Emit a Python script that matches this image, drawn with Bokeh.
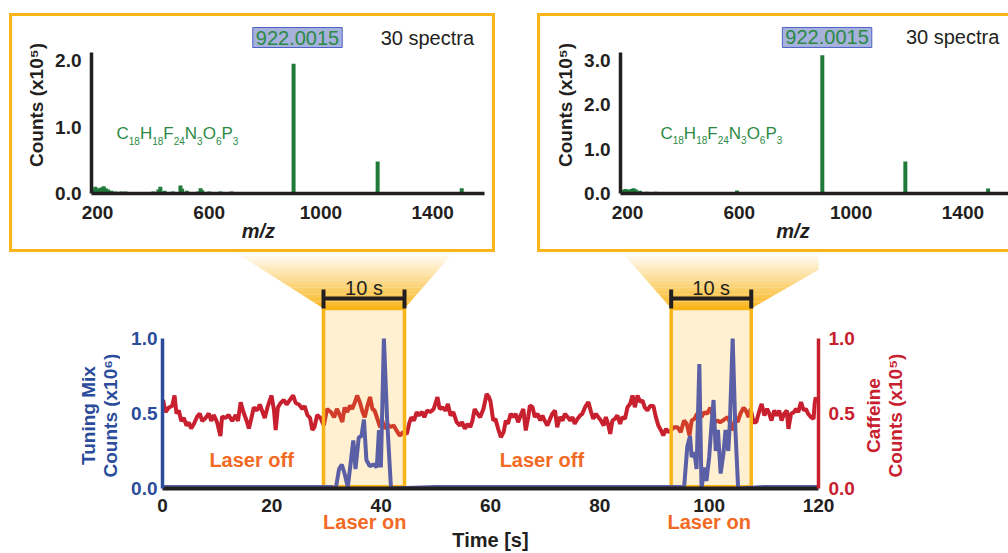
import math
from bokeh.plotting import figure
from bokeh.models import (Range1d, LinearAxis, Label, FixedTicker, NumeralTickFormatter,
                          PolyAnnotation, Spacer)
from bokeh.layouts import column, row
from bokeh.embed import file_html
from bokeh.resources import INLINE

# ---------------- data ----------------
time_ticks = [0, 20, 40, 60, 80, 100, 120]
count_ticks = [0, 0.5, 1.0]
mz_ticks = [200, 600, 1000, 1400]

caffeine_t = [0.1, 0.55, 1.16, 1.77, 2.2, 2.56, 2.99, 3.42, 3.9, 4.39, 4.82, 5.25, 5.74, 6.35, 6.83,
              7.26, 7.87, 8.48, 8.91, 9.4, 10.0, 10.6, 10.9, 11.5, 12.1, 12.75, 13.4, 13.8, 14.3, 14.8,
              15.4, 15.8, 16.2, 16.7, 17.3, 17.8, 18.2, 18.7, 19.2, 19.65, 19.95, 20.4, 20.7, 21.1, 21.6,
              22.2, 22.7, 23.3, 23.9, 24.35, 24.95, 25.6, 26.0, 26.5, 27.0, 27.4, 27.8, 28.3, 28.9, 29.5,
              30.1, 30.8, 31.4, 31.9, 32.3, 32.9, 33.3, 33.8, 34.3, 34.7, 35.2, 35.6, 36.1, 36.6, 37.0,
              37.5, 37.97, 38.4, 38.8, 39.3, 39.8, 40.2, 40.6, 41.1, 41.7, 42.3, 42.8, 43.4, 44.0, 44.7,
              45.1, 45.5, 46.0, 46.5, 46.9, 47.5, 47.9, 48.4, 49.0, 49.6, 50.3, 50.7, 51.2, 51.8, 52.2,
              52.7, 53.2, 53.8, 54.4, 54.8, 55.3, 55.8, 56.3, 56.7, 57.1, 57.6, 58.1, 58.7, 59.3, 59.7,
              60.0, 60.5, 60.9, 61.4, 61.9, 62.4, 62.8, 63.2, 63.7, 64.2, 64.6, 65.05, 65.5, 66.0, 66.45,
              66.9, 67.2, 67.7, 68.1, 68.6, 69.1, 69.5, 69.9, 70.4, 70.9, 71.3, 71.8, 72.2, 72.7, 73.2,
              73.6, 74.1, 74.6, 75.0, 75.4, 75.9, 76.4, 76.8, 77.3, 77.9, 78.4, 78.8, 79.3, 79.7, 80.2,
              80.7, 81.1, 81.5, 81.9, 82.3, 82.75, 83.2, 83.7, 84.1, 84.6, 85.06, 85.55, 85.98, 86.4, 86.9,
              87.4, 87.8, 88.2, 88.7, 89.2, 89.8, 90.25, 90.7, 91.2, 91.6, 92.1, 92.5, 92.97, 93.6, 94.2,
              94.8, 95.4, 95.9, 96.4, 96.8, 97.3, 97.8, 98.2, 98.6, 99.1, 99.6, 100.2, 100.6, 101.05, 101.5,
              102.0, 102.5, 102.9, 103.4, 103.9, 104.3, 104.8, 105.2, 105.7, 106.3, 106.7, 107.2, 107.6, 108.1, 108.6,
              109.2, 109.6, 110.1, 110.6, 111.0, 111.4, 111.9, 112.4, 112.8, 113.25, 113.7, 114.2, 114.5, 114.97, 115.5,
              115.9, 116.3, 116.8, 117.3, 117.7, 118.1, 118.6, 119.1, 119.3, 119.5]
caffeine_v = [0.59, 0.51, 0.54, 0.55, 0.62, 0.50, 0.52, 0.45, 0.47, 0.42, 0.44, 0.40, 0.43, 0.48, 0.50,
              0.45, 0.47, 0.50, 0.45, 0.49, 0.44, 0.35, 0.48, 0.47, 0.49, 0.45, 0.49, 0.45, 0.575, 0.51,
              0.45, 0.40, 0.46, 0.54, 0.52, 0.56, 0.52, 0.47, 0.54, 0.59, 0.62, 0.52, 0.39, 0.54, 0.57,
              0.59, 0.56, 0.59, 0.62, 0.57, 0.56, 0.53, 0.55, 0.49, 0.47, 0.39, 0.41, 0.49, 0.47, 0.42,
              0.53, 0.51, 0.475, 0.53, 0.50, 0.443, 0.54, 0.51, 0.553, 0.53, 0.575, 0.62, 0.575, 0.51, 0.475,
              0.553, 0.61, 0.53, 0.52, 0.465, 0.41, 0.453, 0.398, 0.43, 0.41, 0.42, 0.387, 0.353, 0.376, 0.364,
              0.43, 0.475, 0.453, 0.51, 0.487, 0.51, 0.475, 0.52, 0.51, 0.53, 0.61, 0.53, 0.54, 0.52, 0.564,
              0.487, 0.51, 0.443, 0.42, 0.443, 0.398, 0.43, 0.41, 0.453, 0.53, 0.50, 0.475, 0.53, 0.63, 0.61,
              0.58, 0.453, 0.464, 0.398, 0.342, 0.376, 0.453, 0.431, 0.498, 0.476, 0.498, 0.442, 0.487, 0.53, 0.387,
              0.476, 0.553, 0.542, 0.476, 0.498, 0.453, 0.487, 0.453, 0.42, 0.464, 0.498, 0.52, 0.409, 0.476, 0.453,
              0.498, 0.476, 0.453, 0.476, 0.431, 0.464, 0.487, 0.498, 0.542, 0.576, 0.509, 0.464, 0.498, 0.476, 0.453,
              0.42, 0.476, 0.431, 0.364, 0.453, 0.464, 0.487, 0.431, 0.476, 0.464, 0.542, 0.565, 0.62, 0.542, 0.62,
              0.576, 0.587, 0.542, 0.52, 0.55, 0.55, 0.476, 0.42, 0.387, 0.353, 0.398, 0.376, 0.387, 0.409, 0.409,
              0.376, 0.453, 0.431, 0.353, 0.453, 0.464, 0.498, 0.487, 0.476, 0.509, 0.498, 0.538, 0.487, 0.442, 0.453,
              0.442, 0.453, 0.464, 0.476, 0.431, 0.387, 0.476, 0.442, 0.498, 0.538, 0.52, 0.476, 0.531, 0.442, 0.442,
              0.52, 0.564, 0.487, 0.531, 0.498, 0.453, 0.52, 0.487, 0.52, 0.453, 0.498, 0.52, 0.398, 0.498, 0.509,
              0.531, 0.509, 0.576, 0.52, 0.531, 0.498, 0.476, 0.464, 0.564, 0.61]

tuning_t = [0.0, 8.0, 16.0, 24.0, 31.0,
            31.7, 32.3, 32.8, 33.3, 33.9, 34.9, 35.3, 35.9, 36.4, 36.85, 37.3, 37.9, 38.7, 39.2, 39.6,
            39.95, 40.5, 41.1, 41.8,
            50.0, 60.0, 70.0, 80.0, 90.0, 95.0,
            95.4, 96.0, 96.5, 96.8, 97.3, 97.7, 98.2, 98.6, 99.1, 99.5, 100.0, 100.4, 100.8, 101.2, 101.6,
            102.1, 102.6, 103.0, 103.5, 103.8, 104.3, 104.8, 105.3,
            110.0, 120.0]
tuning_v = [0.01, 0.01, 0.01, 0.01, 0.01,
            0.0, 0.13, 0.16, 0.10, 0.01, 0.32, 0.13, 0.34, 0.35, 0.46, 0.19, 0.15, 0.16, 0.14, 0.39,
            0.14, 1.0, 0.45, 0.0,
            0.01, 0.01, 0.01, 0.01, 0.01, 0.01,
            0.0, 0.28, 0.35, 0.21, 0.24, 0.13, 0.83, 0.0, 0.14, 0.05, 0.21, 0.41, 0.59, 0.25, 0.39,
            0.10, 0.23, 0.39, 0.25, 0.45, 1.0, 0.39, 0.0,
            0.01, 0.01]

laser_on_windows = [(29.45, 44.27), (93.05, 107.7)]
window_label = "10 s"
laser_on_ticks = [37, 100]
laser_off_pos = [(16.3, 0.187), (69.4, 0.187)]

spec1_mz = [185, 192, 200, 207, 214, 222, 230, 238, 250, 265, 285, 300, 330, 360, 400, 418, 425, 440,
            470, 497, 503, 520, 560, 569, 575, 600, 640, 680, 720, 760, 802, 902, 1065, 1203, 1504]
spec1_int = [0.06, 0.10, 0.08, 0.07, 0.09, 0.11, 0.08, 0.06, 0.04, 0.03, 0.03, 0.03, 0.02, 0.02, 0.03,
             0.06, 0.10, 0.04, 0.03, 0.12, 0.07, 0.04, 0.03, 0.08, 0.05, 0.03, 0.03, 0.03, 0.02, 0.02,
             0.02, 1.95, 0.02, 0.48, 0.08]
spec2_mz = [185, 192, 200, 207, 214, 222, 230, 245, 270, 300, 350, 400, 450, 500, 540, 592, 640, 700,
            897, 960, 1040, 1194, 1490]
spec2_int = [0.08, 0.10, 0.09, 0.08, 0.10, 0.12, 0.09, 0.06, 0.04, 0.04, 0.03, 0.03, 0.02, 0.03, 0.03,
             0.07, 0.03, 0.02, 3.12, 0.02, 0.02, 0.72, 0.11]

peak_label = "922.0015"
spectra_label = "30 spectra"
formula_parts = [("C", False), ("18", True), ("H", False), ("18", True), ("F", False), ("24", True),
                 ("N", False), ("3", True), ("O", False), ("6", True), ("P", False), ("3", True)]

left_title = ["Tuning Mix", "Counts (x10\u2076)"]
right_title = ["Caffeine", "Counts (x10\u2075)"]

# ---------------- style ----------------
FONT = "Liberation Sans"
ORANGE = "#F9B417"
BLUE = "#2B4C9B"
TUNE = "#5A5FA6"
RED = "#C8202F"
LASER = "#F26A24"
GREEN = "#1F7A3A"
GREEN_TXT = "#2C8A45"
BLACK = "#231F20"
formula_offsets = [0, 12.3, 23.4, 35.7, 46.8, 57.2, 68.3, 80.6, 86.2, 99.4, 105.0, 116.3]


def style_axis(ax, color, size="19px", line_width=3.5, standoff=8):
    ax.axis_line_color = color
    ax.axis_line_width = line_width
    ax.major_tick_line_color = None
    ax.minor_tick_line_color = None
    ax.major_tick_in = 0
    ax.major_tick_out = 0
    ax.minor_tick_in = 0
    ax.minor_tick_out = 0
    ax.major_label_text_color = color
    ax.major_label_text_font = FONT
    ax.major_label_text_font_style = "bold"
    ax.major_label_text_font_size = size
    ax.major_label_standoff = standoff
    ax.axis_label_text_color = color
    ax.axis_label_text_font = FONT
    ax.axis_label_text_font_style = "bold"
    ax.axis_label_text_font_size = size


def make_inset(width, mb_left, mb_right, xr, ytop, ybound, yticks, mz, inten, styles,
               peak_xy, spectra_xy, formula_x, formula_y, formula_sub_y, mzlab_x):
    p = figure(width=width, height=239, x_range=Range1d(*xr), y_range=Range1d(0, ytop),
               output_backend="svg", toolbar_location=None, title=None,
               min_border_left=mb_left, min_border_right=mb_right,
               min_border_top=0, min_border_bottom=62, styles=styles)
    p.outline_line_color = None
    p.grid.visible = False
    p.background_fill_color = "white"
    p.border_fill_color = "white"
    p.segment(x0=mz, y0=[0] * len(mz), x1=mz, y1=inten, line_color=GREEN, line_width=4)
    xa = p.xaxis[0]
    ya = p.yaxis[0]
    style_axis(xa, BLACK, standoff=12)
    style_axis(ya, BLACK, standoff=10)
    xa.ticker = FixedTicker(ticks=mz_ticks)
    ya.ticker = FixedTicker(ticks=yticks)
    ya.bounds = (0, ybound)
    ya.formatter = NumeralTickFormatter(format="0.0")
    ya.axis_label = "Counts (x10\u2075)"
    ya.axis_label_standoff = 5
    # m/z axis title placed as a second (line-less) axis under the tick labels
    mzax = LinearAxis(ticker=FixedTicker(ticks=[mzlab_x]), major_label_overrides={mzlab_x: "m/z"})
    style_axis(mzax, BLACK, size="20px", standoff=-2)
    mzax.axis_line_color = None
    mzax.major_label_text_font_style = "bold italic"
    p.add_layout(mzax, "below")
    p.add_layout(Label(x=peak_xy[0], y=peak_xy[1], text=peak_label, text_align="center",
                       text_baseline="middle", text_font=FONT, text_font_size="20px",
                       text_color=GREEN_TXT, background_fill_color="#A6B1DC",
                       border_line_color="#4D62C4", border_line_width=1, padding=3))
    p.add_layout(Label(x=spectra_xy[0], y=spectra_xy[1], text=spectra_label, text_align="center",
                       text_baseline="middle", text_font=FONT, text_font_size="20px",
                       text_color=BLACK))
    for (txt, sub), off in zip(formula_parts, formula_offsets):
        p.add_layout(Label(x=formula_x, y=formula_sub_y if sub else formula_y, x_offset=off,
                           text=txt, text_align="left", text_baseline="middle",
                           text_font=FONT, text_font_size="10px" if sub else "17px",
                           text_color=GREEN_TXT))
    return p


inset1 = make_inset(486, 79, 14, (178.5, 1585.6), 2.662, 2.12, [0, 1.0, 2.0], spec1_mz, spec1_int,
                    {"border": "3px solid " + ORANGE},
                    (916, 2.346), (1381, 2.346), 268, 0.902, 0.797, 776)
inset2 = make_inset(471, 80, 3, (175, 1563), 3.993, 3.18, [0, 1.0, 2.0, 3.0], spec2_mz, spec2_int,
                    {"border-left": "3px solid " + ORANGE, "border-top": "3px solid " + ORANGE,
                     "border-bottom": "3px solid " + ORANGE},
                    (914, 3.52), (1363, 3.52), 318, 1.353, 1.196, 792)

# ---------------- main chart ----------------
YTOP = 1.5733
main = figure(width=742, height=301, x_range=Range1d(0, 120), y_range=Range1d(0, YTOP),
              output_backend="svg", toolbar_location=None, title=None,
              min_border_left=42, min_border_right=44, min_border_top=0, min_border_bottom=65)
main.extra_y_ranges = {"caf": Range1d(0, YTOP)}
main.outline_line_color = None
main.grid.visible = False
main.background_fill_color = "white"
main.border_fill_color = "white"

# connectors (gradient bands) from insets to laser-on windows
N = 16
for (w0, w1), (t0, t1) in zip(laser_on_windows, [(13.35, 53.2), (84.1, 125.5)]):
    for i in range(N):
        f0 = i / N
        f1 = (i + 1) / N
        y0 = 1.2 + f0 * (YTOP - 1.2)
        y1 = 1.2 + f1 * (YTOP - 1.2)
        xl0 = w0 + (t0 - w0) * f0
        xr0 = w1 + (t1 - w1) * f0
        xl1 = w0 + (t0 - w0) * f1
        xr1 = w1 + (t1 - w1) * f1
        alpha = 0.97 * (1 - (i + 0.5) / N) ** 1.0
        main.add_layout(PolyAnnotation(xs=[xl0, xr0, xr1, xl1], ys=[y0, y0, y1, y1],
                                       fill_color=ORANGE, fill_alpha=alpha, line_color=None,
                                       level="underlay"))

main.line(caffeine_t, caffeine_v, y_range_name="caf", line_color=RED, line_width=4)
main.quad(left=[w[0] for w in laser_on_windows], right=[w[1] for w in laser_on_windows],
          bottom=0.012, top=1.2, fill_color=ORANGE, fill_alpha=0.2,
          line_color=ORANGE, line_width=3.5)
main.line(tuning_t, tuning_v, line_color=TUNE, line_width=4)

# brackets
for w0, w1 in laser_on_windows:
    main.segment(x0=[w0, w0, w1], y0=[1.267, 1.2, 1.2], x1=[w1, w0, w1], y1=[1.267, 1.327, 1.327],
                 line_color=BLACK, line_width=4)
    main.add_layout(Label(x=(w0 + w1) / 2, y=1.335, text=window_label, text_align="center",
                          text_baseline="middle", text_font=FONT, text_font_size="20px",
                          text_color=BLACK))

# axes
xa = main.below[0]
style_axis(xa, BLACK, line_width=4, standoff=10)
xa.ticker = FixedTicker(ticks=time_ticks)

lax = LinearAxis(ticker=FixedTicker(ticks=laser_on_ticks),
                 major_label_overrides={t: "Laser on" for t in laser_on_ticks})
style_axis(lax, LASER, size="20px", standoff=-4)
lax.axis_line_color = None
lax.axis_label = "Time [s]"
lax.axis_label_text_color = BLACK
lax.axis_label_text_font_size = "20px"
lax.axis_label_standoff = -7
main.add_layout(lax, "below")

la = main.left[0]
style_axis(la, BLUE, standoff=5)
la.bounds = (0, 1)
la.ticker = FixedTicker(ticks=count_ticks)
la.formatter = NumeralTickFormatter(format="0.0")

ra = LinearAxis(y_range_name="caf", bounds=(0, 1))
style_axis(ra, RED, standoff=10)
ra.ticker = FixedTicker(ticks=count_ticks)
ra.formatter = NumeralTickFormatter(format="0.0")
main.add_layout(ra, "right")

for xx, yy in laser_off_pos:
    main.add_layout(Label(x=xx, y=yy, text="Laser off", text_align="center", text_baseline="middle",
                          text_font=FONT, text_font_style="bold", text_font_size="20px",
                          text_color=LASER))


# ---------------- side panels holding the vertical axis titles ----------------
def side_panel(width, lines, xs, color):
    s = figure(width=width, height=301, x_range=Range1d(0, width), y_range=Range1d(0, 301),
               output_backend="svg", toolbar_location=None, title=None,
               x_axis_type=None, y_axis_type=None,
               min_border_left=0, min_border_right=0, min_border_top=0, min_border_bottom=0)
    s.outline_line_color = None
    s.grid.visible = False
    s.background_fill_color = "white"
    s.border_fill_color = "white"
    for txt, xx in zip(lines, xs):
        s.add_layout(Label(x=xx, y=93, text=txt, angle=math.pi / 2, text_align="center",
                           text_baseline="middle", text_font=FONT, text_font_style="bold",
                           text_font_size="19px", text_color=color))
    return s


left_side = side_panel(120, left_title, [88, 110], BLUE)
right_side = side_panel(146, right_title, [11, 33], RED)

layout = column(Spacer(height=13, width=1008),
                row(Spacer(width=9, height=239), inset1, Spacer(width=42, height=239), inset2),
                row(left_side, main, right_side))

open("out.html", "w").write(file_html(layout, INLINE))
